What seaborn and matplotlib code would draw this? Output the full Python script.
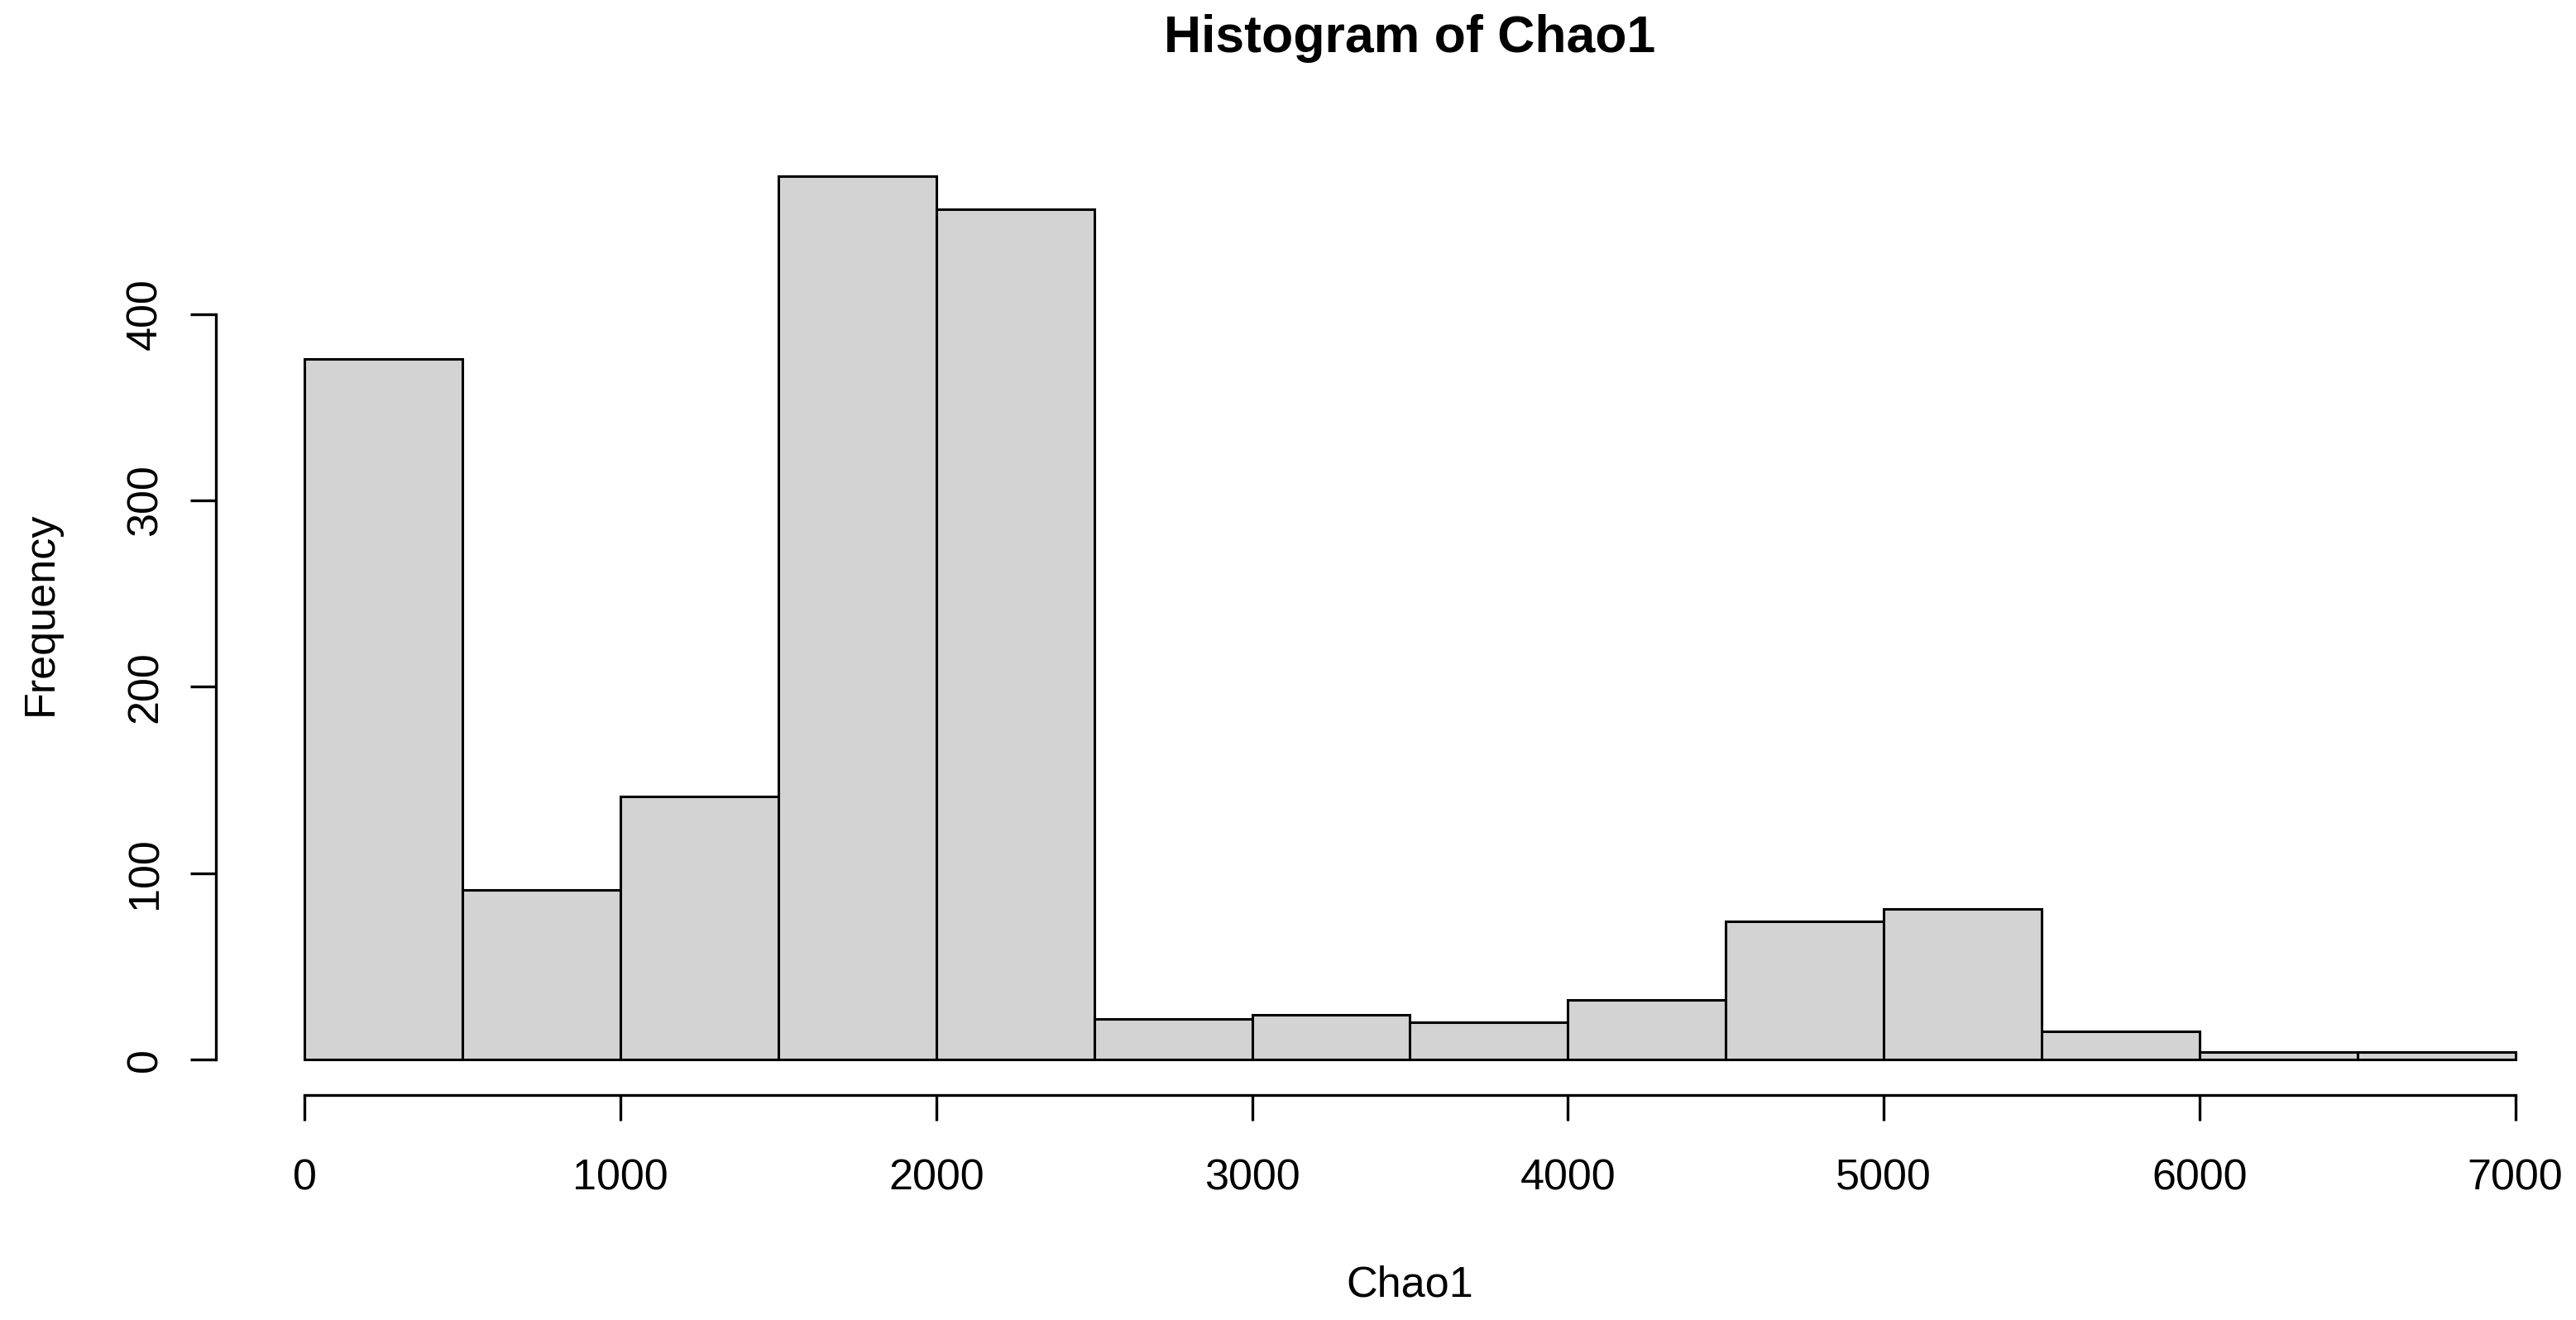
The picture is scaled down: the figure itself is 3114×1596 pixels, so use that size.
import numpy as np
import pandas as pd
import seaborn as sns
import matplotlib.pyplot as plt

# histogram of Chao1 (R hist style), counts
bin_edges = [0, 500, 1000, 1500, 2000, 2500, 3000, 3500, 4000, 4500,
             5000, 5500, 6000, 6500, 7000]
counts = [376, 91, 141, 474, 456, 22, 24, 20, 32, 74, 81, 15, 4, 4]
x_ticks = [0, 1000, 2000, 3000, 4000, 5000, 6000, 7000]
y_ticks = [0, 100, 200, 300, 400]


def plot():
    sns.set_theme(style="white")
    plt.rcParams['font.family'] = ['Liberation Sans', 'DejaVu Sans']
    plt.rcParams['text.color'] = 'black'

    W, H = 3114, 1596
    fig = plt.figure(figsize=(W / 100, H / 100), dpi=100)
    ax = fig.add_axes([261.4 / W, 1 - 1324 / H, 2886.1 / W, 1154 / H])

    edges = np.array(bin_edges, dtype=float)
    df = pd.DataFrame({"Chao1": (edges[:-1] + edges[1:]) / 2,
                       "n": np.array(counts, dtype=float)})
    sns.histplot(data=df, x="Chao1", weights="n", bins=list(edges), ax=ax,
                 color="#d3d3d3", edgecolor="black", linewidth=2.2, alpha=1)

    # R adds 4% on each side of the data range
    xr = edges[-1] - edges[0]
    ax.set_xlim(edges[0] - 0.04 * xr, edges[-1] + 0.04 * xr)
    ym = max(counts)
    ax.set_ylim(-0.04 * ym, ym * 1.04)

    ax.set_xticks(x_ticks)
    ax.set_xticklabels([str(t) for t in x_ticks])
    ax.set_yticks(y_ticks)
    ax.set_yticklabels([str(t) for t in y_ticks])
    ax.set_xlabel("")
    ax.set_ylabel("")

    for s in ["top", "right"]:
        ax.spines[s].set_visible(False)
    for s in ["left", "bottom"]:
        ax.spines[s].set_color("black")
        ax.spines[s].set_linewidth(2.4)
    ax.spines["bottom"].set_bounds(x_ticks[0], x_ticks[-1])
    ax.spines["left"].set_bounds(y_ticks[0], y_ticks[-1])

    ax.tick_params(axis="both", direction="out", length=22.3, width=2.4,
                   color="black", labelsize=37.5, labelcolor="black")
    ax.tick_params(axis="x", pad=32.9, bottom=True)
    ax.tick_params(axis="y", pad=21.6, left=True)
    for lab in ax.get_yticklabels():
        lab.set_rotation(90)
        lab.set_va("center")

    cx = (261.4 + 2886.1 / 2) / W
    fig.text(cx, 1 - 62.7 / H, "Histogram of Chao1", ha="center", va="baseline",
             fontsize=45, fontweight="bold", color="black")
    fig.text(cx, 1 - 1568 / H, "Chao1", ha="center", va="baseline",
             fontsize=37.5, color="black")
    fig.text(62.7 / W, 1 - 741.5 / H, "Frequency", ha="center", va="baseline",
             rotation=90, rotation_mode="anchor", fontsize=37.5, color="black")

    fig.savefig("out.png", dpi=100, facecolor="white")


if __name__ == '__main__':
    plot()
